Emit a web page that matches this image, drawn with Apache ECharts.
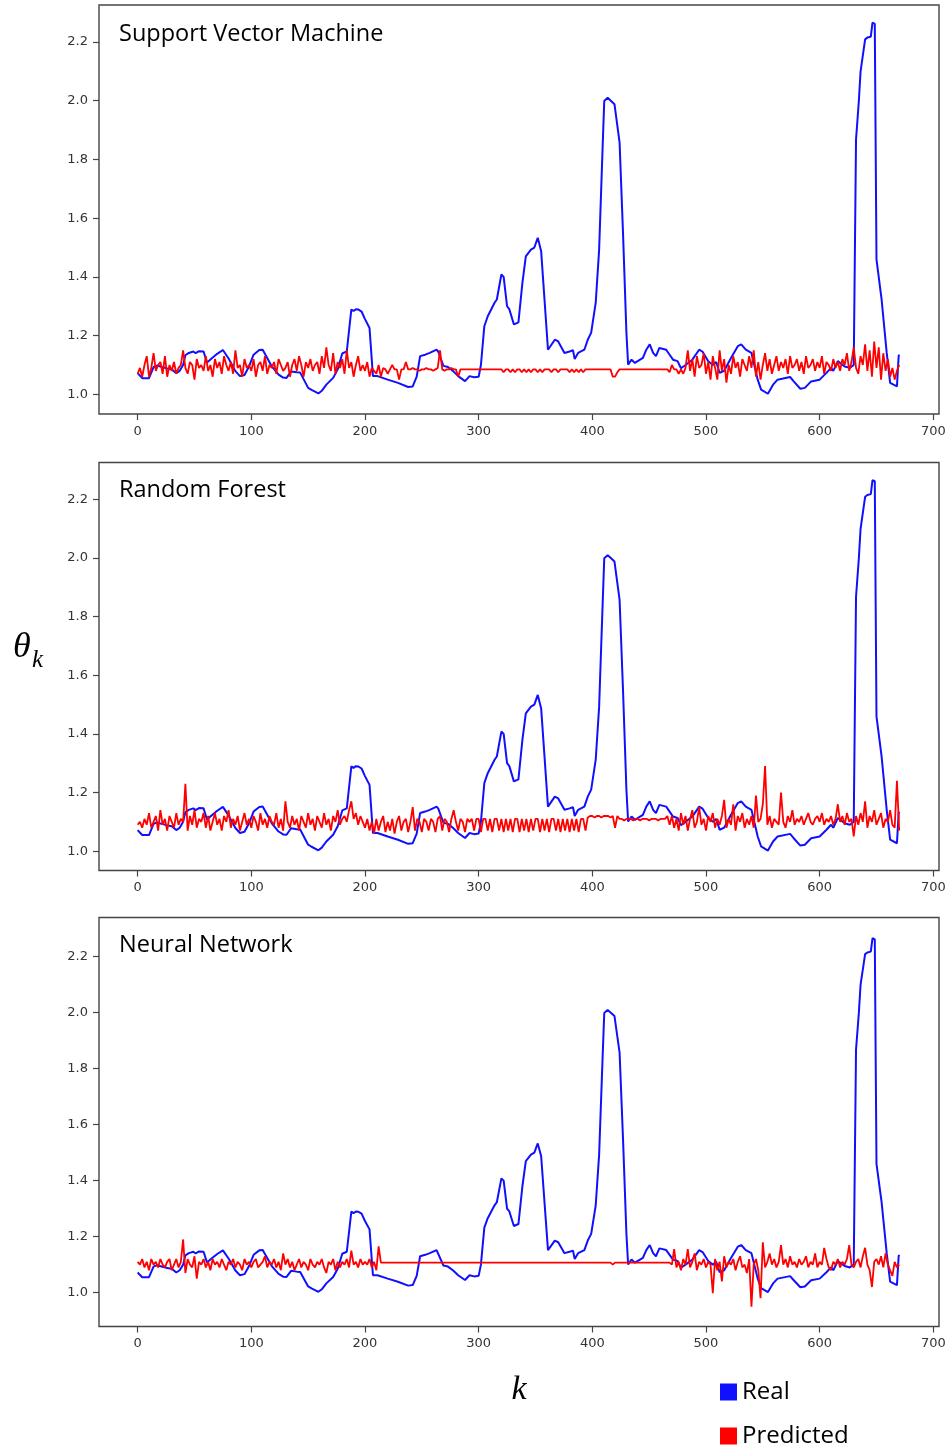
<!DOCTYPE html>
<html>
<head>
<meta charset="utf-8">
<script src="https://cdn.jsdelivr.net/npm/echarts@6/dist/echarts.min.js"></script>
<style>
  html, body { margin: 0; padding: 0; background: #fff; }
  #c { width: 952px; height: 1449px; }
</style>
</head>
<body>
<div id="c"></div>
<script>
// Panel titles
const panelTitles = ['Support Vector Machine', 'Random Forest', 'Neural Network'];

// Axis ticks
const xTicks = [0, 100, 200, 300, 400, 500, 600, 700];
const yTicks = [1.0, 1.2, 1.4, 1.6, 1.8, 2.0, 2.2];

// Real θ_k (vertices of the measured curve): sample index k and value
const realK = [0, 4, 10, 14, 17, 26, 30, 34, 37, 40, 42, 45, 49, 51, 54, 58, 61, 65, 70, 75, 80, 86, 90, 94, 98,
  102, 107, 110, 114, 118, 124, 128, 131, 135, 140, 143, 150, 153, 159, 162, 166, 172, 176, 180, 184, 188, 190,
  192, 194, 197, 200, 204, 207, 211, 220, 229, 238, 242, 245.5, 248.5, 253, 257, 263, 264.5, 269, 273, 277.6,
  282, 288, 292, 296, 300, 302, 305, 308, 314, 316, 320, 322, 325, 327, 331, 335, 338.5, 341.5, 346, 347, 349,
  352, 355, 361, 367, 370, 375.5, 380, 383, 384.5, 387.5, 393, 396, 399, 403, 406, 409, 410.5, 413.5, 416.5,
  419.5, 424, 427, 430, 431.5, 434.5, 437.5, 444.5, 447.5, 450.5, 453.5, 456, 459, 465, 468, 471, 475, 478,
  482, 488, 494, 497, 502, 506, 509, 512, 516, 522, 528, 531, 535, 540, 545.5, 548.5, 554.5, 559, 563, 574,
  577, 583, 587, 592.5, 600, 606, 610, 612, 616, 622, 626.5, 630, 632, 634.5, 636, 640, 642, 645, 646.5,
  648.5, 650, 654.5, 659, 662, 668, 669.5, 670];
const realTheta = [1.072, 1.055, 1.055, 1.093, 1.098, 1.088, 1.085, 1.072, 1.08, 1.10, 1.133, 1.141, 1.146, 1.14,
  1.147, 1.146, 1.108, 1.122, 1.138, 1.151, 1.122, 1.079, 1.062, 1.066, 1.095,
  1.135, 1.151, 1.152, 1.124, 1.095, 1.067, 1.057, 1.056, 1.078, 1.075, 1.074, 1.022, 1.015, 1.003, 1.012,
  1.033, 1.056, 1.085, 1.139, 1.146, 1.289, 1.284,
  1.29, 1.289, 1.282, 1.256, 1.226, 1.062, 1.062, 1.05, 1.039, 1.025, 1.027, 1.06, 1.13, 1.135, 1.141, 1.152,
  1.145, 1.097, 1.093, 1.079,
  1.062, 1.045, 1.062, 1.058, 1.06, 1.10, 1.232, 1.266, 1.312, 1.323, 1.408, 1.40, 1.30, 1.29, 1.238, 1.245,
  1.38, 1.47, 1.493, 1.487, 1.50,
  1.533, 1.487, 1.152, 1.186, 1.18, 1.141, 1.146, 1.15, 1.12, 1.141, 1.152, 1.186, 1.21, 1.312, 1.493, 1.834,
  1.999, 2.01, 1.999,
  1.988, 1.857, 1.55, 1.21, 1.101, 1.118, 1.107, 1.124, 1.152, 1.17, 1.141, 1.13, 1.158, 1.152, 1.135, 1.118,
  1.113, 1.089,
  1.10, 1.118, 1.152, 1.145, 1.113, 1.10, 1.11, 1.073, 1.08, 1.124, 1.164, 1.17, 1.152, 1.141, 1.05, 1.016,
  1.002, 1.033, 1.05, 1.059,
  1.045, 1.019, 1.022, 1.044, 1.05, 1.073, 1.09, 1.08, 1.113, 1.095, 1.09, 1.10, 1.868, 2.0, 2.10, 2.209, 2.215,
  2.218, 2.266,
  2.262, 1.46, 1.323, 1.141, 1.039, 1.027, 1.13, 1.135];

// Predicted θ_k, one value every 2 samples (k = 0, 2, ..., 670)
const predStep = 2;
const predSvm = [
  1.07, 1.09, 1.06, 1.10, 1.13, 1.06, 1.09, 1.14, 1.08, 1.10,   // k 0
  1.11, 1.07, 1.13, 1.06, 1.10, 1.08, 1.11, 1.07, 1.09, 1.10,   // k 20
  1.15, 1.09, 1.07, 1.11, 1.10, 1.05, 1.12, 1.09, 1.10, 1.08,   // k 40
  1.13, 1.08, 1.10, 1.06, 1.12, 1.09, 1.11, 1.07, 1.13, 1.10,   // k 60
  1.08, 1.11, 1.07, 1.15, 1.09, 1.10, 1.06, 1.12, 1.09, 1.10,   // k 80
  1.08, 1.12, 1.06, 1.10, 1.11, 1.08, 1.13, 1.07, 1.10, 1.09,   // k 100
  1.11, 1.07, 1.12, 1.10, 1.08, 1.09, 1.11, 1.06, 1.10, 1.12,   // k 120
  1.08, 1.13, 1.10, 1.06, 1.11, 1.09, 1.12, 1.08, 1.10, 1.11,   // k 140
  1.07, 1.13, 1.09, 1.16, 1.10, 1.08, 1.14, 1.07, 1.11, 1.09,   // k 160
  1.12, 1.07, 1.15, 1.09, 1.11, 1.06, 1.10, 1.13, 1.08, 1.10,   // k 180
  1.08, 1.11, 1.06, 1.09, 1.08, 1.07, 1.10, 1.06, 1.09, 1.085,  // k 200
  1.07, 1.085, 1.10, 1.085, 1.085, 1.05, 1.085, 1.085, 1.11, 1.085, // k 220
  1.085, 1.09, 1.085, 1.085, 1.08, 1.085, 1.085, 1.09, 1.085, 1.085, // k 240
  1.08, 1.085, 1.09, 1.15, 1.085, 1.08, 1.085, 1.085, 1.09, 1.085,   // k 260
  1.085, 1.06, 1.085, 1.085, 1.085, 1.085, 1.085, 1.085, 1.085, 1.085, // k 280
  1.085, 1.085, 1.085, 1.085, 1.085, 1.085, 1.085, 1.085, 1.085, 1.085, // k 300
  1.085, 1.075, 1.085, 1.085, 1.075, 1.085, 1.075, 1.085, 1.085, 1.075, // k 320
  1.085, 1.075, 1.085, 1.075, 1.085, 1.085, 1.075, 1.085, 1.075, 1.085, // k 340
  1.085, 1.085, 1.075, 1.085, 1.085, 1.075, 1.085, 1.085, 1.085, 1.085, // k 360
  1.075, 1.085, 1.075, 1.085, 1.075, 1.085, 1.075, 1.085, 1.085, 1.085, // k 380
  1.085, 1.085, 1.085, 1.085, 1.085, 1.085, 1.085, 1.085, 1.085, 1.06,  // k 400
  1.06, 1.075, 1.085, 1.085, 1.085, 1.085, 1.085, 1.085, 1.085, 1.085,  // k 420
  1.085, 1.085, 1.085, 1.085, 1.085, 1.085, 1.085, 1.085, 1.085, 1.085, // k 440
  1.085, 1.085, 1.085, 1.085, 1.075, 1.10, 1.085, 1.085, 1.07, 1.085,   // k 460
  1.07, 1.09, 1.15, 1.08, 1.12, 1.06, 1.13, 1.09, 1.10, 1.14,   // k 480
  1.07, 1.11, 1.05, 1.13, 1.09, 1.05, 1.15, 1.08, 1.12, 1.04,   // k 500
  1.10, 1.07, 1.13, 1.09, 1.11, 1.06, 1.12, 1.10, 1.08, 1.13,   // k 520
  1.09, 1.15, 1.06, 1.11, 1.05, 1.10, 1.14, 1.08, 1.12, 1.07,   // k 540
  1.10, 1.13, 1.08, 1.11, 1.09, 1.12, 1.07, 1.13, 1.09, 1.10,   // k 560
  1.12, 1.08, 1.11, 1.07, 1.13, 1.09, 1.10, 1.12, 1.08, 1.11,   // k 580
  1.09, 1.13, 1.07, 1.11, 1.10, 1.08, 1.12, 1.09, 1.11, 1.08,   // k 600
  1.12, 1.10, 1.14, 1.08, 1.11, 1.16, 1.09, 1.07, 1.13, 1.10,   // k 620
  1.17, 1.08, 1.15, 1.06, 1.18, 1.09, 1.16, 1.05, 1.14, 1.08,   // k 640
  1.12, 1.06, 1.09, 1.05, 1.08, 1.10                            // k 660
];
const predRf = [
  1.09, 1.10, 1.08, 1.11, 1.09, 1.13, 1.08, 1.10, 1.12, 1.07,   // k 0
  1.14, 1.09, 1.11, 1.07, 1.12, 1.10, 1.08, 1.13, 1.09, 1.11,   // k 20
  1.10, 1.23, 1.07, 1.12, 1.09, 1.14, 1.08, 1.11, 1.10, 1.13,   // k 40
  1.08, 1.12, 1.07, 1.10, 1.13, 1.09, 1.11, 1.07, 1.12, 1.10,   // k 60
  1.14, 1.08, 1.11, 1.09, 1.12, 1.07, 1.10, 1.13, 1.09, 1.11,   // k 80
  1.08, 1.12, 1.10, 1.07, 1.13, 1.09, 1.11, 1.08, 1.12, 1.10,   // k 100
  1.09, 1.13, 1.08, 1.11, 1.07, 1.17, 1.10, 1.08, 1.12, 1.09,   // k 120
  1.11, 1.07, 1.12, 1.10, 1.08, 1.13, 1.09, 1.11, 1.07, 1.12,   // k 140
  1.10, 1.08, 1.13, 1.09, 1.11, 1.07, 1.12, 1.10, 1.14, 1.09,   // k 160
  1.11, 1.12, 1.10, 1.14, 1.17, 1.11, 1.13, 1.09, 1.12, 1.10,   // k 180
  1.08, 1.11, 1.07, 1.10, 1.06, 1.11, 1.07, 1.10, 1.12, 1.065,  // k 200
  1.10, 1.07, 1.11, 1.06, 1.10, 1.12, 1.07, 1.10, 1.11, 1.065,  // k 220
  1.10, 1.15, 1.07, 1.11, 1.10, 1.065, 1.11, 1.10, 1.07, 1.11,  // k 240
  1.10, 1.065, 1.11, 1.12, 1.07, 1.11, 1.10, 1.065, 1.11, 1.14, // k 260
  1.10, 1.07, 1.11, 1.10, 1.065, 1.11, 1.10, 1.11, 1.07, 1.11,  // k 280
  1.11, 1.065, 1.11, 1.11, 1.07, 1.11, 1.065, 1.11, 1.11, 1.07, // k 300
  1.11, 1.065, 1.11, 1.07, 1.11, 1.065, 1.11, 1.11, 1.065, 1.11, // k 320
  1.07, 1.11, 1.065, 1.11, 1.07, 1.11, 1.11, 1.065, 1.11, 1.07, // k 340
  1.11, 1.065, 1.11, 1.11, 1.07, 1.11, 1.065, 1.11, 1.07, 1.11, // k 360
  1.065, 1.11, 1.07, 1.11, 1.065, 1.11, 1.11, 1.07, 1.115, 1.12, // k 380
  1.12, 1.115, 1.12, 1.12, 1.115, 1.12, 1.12, 1.12, 1.115, 1.12, // k 400
  1.08, 1.12, 1.11, 1.11, 1.105, 1.11, 1.11, 1.11, 1.105, 1.11,  // k 420
  1.11, 1.105, 1.11, 1.11, 1.11, 1.105, 1.11, 1.11, 1.11, 1.105, // k 440
  1.11, 1.11, 1.11, 1.12, 1.09, 1.12, 1.08, 1.11, 1.07, 1.13,    // k 460
  1.09, 1.12, 1.07, 1.11, 1.14, 1.08, 1.10, 1.15, 1.09, 1.11,    // k 480
  1.07, 1.12, 1.10, 1.13, 1.08, 1.11, 1.09, 1.12, 1.175, 1.08,   // k 500
  1.11, 1.09, 1.16, 1.07, 1.12, 1.10, 1.13, 1.08, 1.11, 1.09,    // k 520
  1.12, 1.08, 1.19, 1.10, 1.11, 1.16, 1.29, 1.09, 1.12, 1.08,    // k 540
  1.11, 1.10, 1.09, 1.20, 1.10, 1.08, 1.12, 1.10, 1.14, 1.09,    // k 560
  1.11, 1.10, 1.12, 1.09, 1.11, 1.13, 1.10, 1.09, 1.11, 1.12,    // k 580
  1.10, 1.13, 1.09, 1.11, 1.10, 1.12, 1.09, 1.11, 1.16, 1.10,    // k 600
  1.12, 1.09, 1.13, 1.10, 1.11, 1.05, 1.12, 1.09, 1.13, 1.10,    // k 620
  1.17, 1.08, 1.12, 1.10, 1.14, 1.09, 1.11, 1.13, 1.08, 1.11,    // k 640
  1.10, 1.14, 1.09, 1.08, 1.24, 1.07                             // k 660
];
const predNn = [
  1.11, 1.10, 1.12, 1.09, 1.11, 1.08, 1.12, 1.10, 1.11, 1.09,   // k 0
  1.12, 1.10, 1.09, 1.11, 1.12, 1.08, 1.10, 1.12, 1.09, 1.11,   // k 20
  1.19, 1.07, 1.12, 1.10, 1.09, 1.13, 1.05, 1.11, 1.10, 1.12,   // k 40
  1.09, 1.11, 1.08, 1.12, 1.10, 1.11, 1.09, 1.12, 1.10, 1.08,   // k 60
  1.11, 1.10, 1.12, 1.09, 1.11, 1.10, 1.08, 1.12, 1.10, 1.11,   // k 80
  1.09, 1.11, 1.12, 1.09, 1.10, 1.11, 1.13, 1.09, 1.11, 1.10,   // k 100
  1.12, 1.09, 1.11, 1.08, 1.14, 1.10, 1.12, 1.09, 1.11, 1.08,   // k 120
  1.10, 1.12, 1.09, 1.11, 1.10, 1.08, 1.12, 1.10, 1.09, 1.11,   // k 140
  1.10, 1.12, 1.09, 1.07, 1.11, 1.10, 1.12, 1.08, 1.11, 1.09,   // k 160
  1.11, 1.10, 1.12, 1.09, 1.15, 1.10, 1.11, 1.09, 1.12, 1.10,   // k 180
  1.11, 1.10, 1.12, 1.09, 1.11, 1.08, 1.165, 1.107, 1.107, 1.107, // k 200
  1.107, 1.107, 1.107, 1.107, 1.107, 1.107, 1.107, 1.107, 1.107, 1.107, // k 220
  1.107, 1.107, 1.107, 1.107, 1.107, 1.107, 1.107, 1.107, 1.107, 1.107, // k 240
  1.107, 1.107, 1.107, 1.107, 1.107, 1.107, 1.107, 1.107, 1.107, 1.107, // k 260
  1.107, 1.107, 1.107, 1.107, 1.107, 1.107, 1.107, 1.107, 1.107, 1.107, // k 280
  1.107, 1.107, 1.107, 1.107, 1.107, 1.107, 1.107, 1.107, 1.107, 1.107, // k 300
  1.107, 1.107, 1.107, 1.107, 1.107, 1.107, 1.107, 1.107, 1.107, 1.107, // k 320
  1.107, 1.107, 1.107, 1.107, 1.107, 1.107, 1.107, 1.107, 1.107, 1.107, // k 340
  1.107, 1.107, 1.107, 1.107, 1.107, 1.107, 1.107, 1.107, 1.107, 1.107, // k 360
  1.107, 1.107, 1.107, 1.107, 1.107, 1.107, 1.107, 1.107, 1.107, 1.107, // k 380
  1.107, 1.107, 1.107, 1.107, 1.107, 1.107, 1.107, 1.107, 1.107, 1.10,  // k 400
  1.107, 1.107, 1.107, 1.107, 1.107, 1.107, 1.107, 1.107, 1.107, 1.107, // k 420
  1.107, 1.107, 1.107, 1.107, 1.107, 1.107, 1.107, 1.107, 1.107, 1.107, // k 440
  1.107, 1.107, 1.107, 1.107, 1.107, 1.10, 1.155, 1.09, 1.11, 1.08,     // k 460
  1.12, 1.10, 1.155, 1.09, 1.11, 1.14, 1.08, 1.11, 1.10, 1.12,   // k 480
  1.09, 1.11, 1.10, 0.998, 1.12, 1.08, 1.11, 1.04, 1.13, 1.09,   // k 500
  1.11, 1.10, 1.12, 1.08, 1.11, 1.13, 1.09, 1.10, 1.07, 1.12,    // k 520
  0.95, 1.10, 1.12, 1.08, 0.98, 1.18, 1.09, 1.11, 1.14, 1.10,    // k 540
  1.12, 1.09, 1.11, 1.17, 1.10, 1.12, 1.09, 1.13, 1.10, 1.11,    // k 560
  1.09, 1.12, 1.10, 1.11, 1.13, 1.09, 1.11, 1.10, 1.14, 1.09,    // k 580
  1.11, 1.10, 1.16, 1.12, 1.09, 1.08, 1.11, 1.10, 1.12, 1.09,    // k 600
  1.11, 1.10, 1.12, 1.17, 1.10, 1.09, 1.11, 1.12, 1.09, 1.13,    // k 620
  1.16, 1.10, 1.08, 1.02, 1.11, 1.12, 1.10, 1.13, 1.09, 1.14,    // k 640
  1.10, 1.08, 1.06, 1.11, 1.09, 1.10                             // k 660
];
const predictions = [predSvm, predRf, predNn];

// Panel layout and value ranges
const panels = [
  { top: 5,     height: 409, yMin: 0.933, yMax: 2.326, titleY: 34 },
  { top: 462.5, height: 408, yMin: 0.934, yMax: 2.326, titleY: 490 },
  { top: 917.5, height: 409, yMin: 0.879, yMax: 2.340, titleY: 945 }
];

const axisColor = '#454545';
const labelFont = 'DejaVu Sans';

const realData = realK.map((k, i) => [k, realTheta[i]]);

const grid = [], xAxis = [], yAxis = [], series = [], graphic = [];
panels.forEach((p, i) => {
  grid.push({
    left: 99, top: p.top, width: 840, height: p.height,
    show: true, borderColor: axisColor, borderWidth: 1.4, backgroundColor: '#fff'
  });
  xAxis.push({
    gridIndex: i, type: 'value', min: -34, max: 705, position: 'bottom',
    splitLine: { show: false }, axisLine: { show: false, onZero: false },
    axisTick: { show: true, length: 6, lineStyle: { color: axisColor, width: 1.2 }, customValues: xTicks },
    axisLabel: { customValues: xTicks, fontSize: 13, color: '#333', margin: 11, fontFamily: labelFont }
  });
  yAxis.push({
    gridIndex: i, type: 'value', min: p.yMin, max: p.yMax, position: 'left',
    splitLine: { show: false }, axisLine: { show: false, onZero: false },
    axisTick: { show: true, length: 6, lineStyle: { color: axisColor, width: 1.2 }, customValues: yTicks },
    axisLabel: { customValues: yTicks, fontSize: 13, color: '#333', margin: 11, fontFamily: labelFont,
      formatter: v => Number(v).toFixed(1) }
  });
  series.push({
    name: 'Real', type: 'line', xAxisIndex: i, yAxisIndex: i,
    data: realData, showSymbol: false, symbol: 'none',
    lineStyle: { color: '#1010ff', width: 2 }, itemStyle: { color: '#1010ff' },
    z: 2, animation: false
  });
  series.push({
    name: 'Predicted', type: 'line', xAxisIndex: i, yAxisIndex: i,
    data: predictions[i].map((v, j) => [j * predStep, v]), showSymbol: false, symbol: 'none',
    lineStyle: { color: '#ff0000', width: 1.8 }, itemStyle: { color: '#ff0000' },
    z: 3, animation: false
  });
  graphic.push({
    type: 'text', x: 119, y: p.titleY,
    style: { text: panelTitles[i], font: '23.5px "Open Sans"', fill: '#000', align: 'left', verticalAlign: 'middle' }
  });
});

// Axis names: θ_k on the left, k below the bottom panel
graphic.push({ type: 'text', x: 13, y: 648,
  style: { text: 'θ', font: 'italic 36px "Liberation Serif"', fill: '#000', align: 'left', verticalAlign: 'middle' } });
graphic.push({ type: 'text', x: 32, y: 660,
  style: { text: 'k', font: 'italic 25px "Liberation Serif"', fill: '#000', align: 'left', verticalAlign: 'middle' } });
graphic.push({ type: 'text', x: 519, y: 1390,
  style: { text: 'k', font: 'italic 34px "Liberation Serif"', fill: '#000', align: 'center', verticalAlign: 'middle' } });

const chart = echarts.init(document.getElementById('c'), null, { renderer: 'canvas' });
chart.setOption({
  animation: false,
  backgroundColor: '#fff',
  grid, xAxis, yAxis, series, graphic,
  legend: {
    data: ['Real', 'Predicted'], orient: 'vertical', left: 720, top: 1380, height: 69,
    icon: 'rect', itemWidth: 17, itemHeight: 17, itemGap: 20, padding: 0,
    textStyle: { fontSize: 24, lineHeight: 22, fontFamily: 'Open Sans', color: '#000' },
    selectedMode: false
  }
});
</script>
</body>
</html>
